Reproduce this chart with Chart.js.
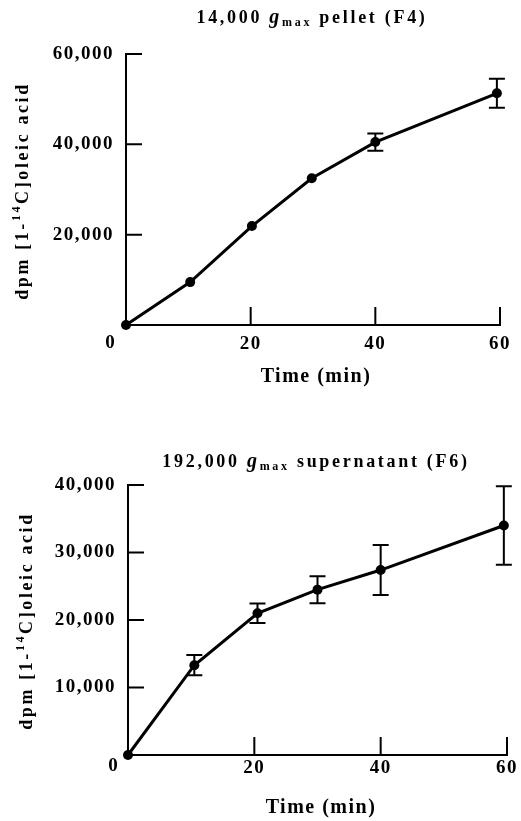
<!DOCTYPE html>
<html>
<head>
<meta charset="utf-8">
<script src="https://cdn.jsdelivr.net/npm/chart.js@4.4.0/dist/chart.umd.min.js"></script>
<style>
  html, body { margin: 0; padding: 0; background: #fff; }
  #wrap { position: relative; width: 521px; height: 821px; }
  canvas { position: absolute; left: 0; }
  #f4 { top: 0; }
  #f6 { top: 400px; }
</style>
</head>
<body>
<div id="wrap">
  <canvas id="f4" width="521" height="400"></canvas>
  <canvas id="f6" width="521" height="421"></canvas>
</div>
<script>
// 14,000 g pellet (F4)
const timeF4 = [0, 10.3, 20.2, 29.8, 40, 59.5];
const dpmF4 = [0, 9500, 21900, 32500, 40500, 51300];
const errF4 = [0, 0, 0, 0, 1900, 3200];
const yTicksF4 = [20000, 40000, 60000];

// 192,000 g supernatant (F6)
const timeF6 = [0, 10.5, 20.5, 30, 40, 59.5];
const dpmF6 = [0, 13300, 21000, 24500, 27400, 34000];
const errF6 = [0, 1500, 1450, 2000, 3700, 5800];
const yTicksF6 = [10000, 20000, 30000, 40000];

const xTicks = [20, 40, 60];
const SERIF = "'Liberation Serif', 'Times New Roman', serif";

// draw runs of text [{t, font, dy}] centred on (x, y), optionally rotated
function drawRuns(ctx, runs, x, y, spacing, rotate) {
  ctx.save();
  ctx.letterSpacing = spacing + 'px';
  ctx.fillStyle = '#000';
  ctx.textBaseline = 'middle';
  ctx.textAlign = 'left';
  let total = 0;
  runs.forEach(r => { ctx.font = r.font; r.w = ctx.measureText(r.t).width; total += r.w; });
  ctx.translate(x, y);
  if (rotate) ctx.rotate(-Math.PI / 2);
  let cx = -total / 2;
  runs.forEach(r => { ctx.font = r.font; ctx.fillText(r.t, cx, r.dy || 0); cx += r.w; });
  ctx.restore();
}

function yLabelRuns() {
  return [
    { t: 'dpm [1-', font: 'bold 18px ' + SERIF },
    { t: '14', font: 'bold 12px ' + SERIF, dy: -6 },
    { t: 'C]oleic acid', font: 'bold 18px ' + SERIF }
  ];
}

function titleRuns(before, after) {
  return [
    { t: before, font: 'bold 18px ' + SERIF },
    { t: 'g', font: 'italic bold 20px ' + SERIF },
    { t: 'max', font: 'bold 12px ' + SERIF, dy: 5 },
    { t: after, font: 'bold 18px ' + SERIF }
  ];
}

function makeChart(id, times, dpm, err, yTicks, yMax, look) {
  const decor = {
    id: 'decor',
    beforeDraw(chart) { chart.ctx.letterSpacing = '1.5px'; },
    afterDatasetsDraw(chart) {
      const { ctx, scales: { x, y } } = chart;
      ctx.save();
      ctx.strokeStyle = '#000';
      ctx.lineWidth = 2;
      // error bars
      ctx.beginPath();
      times.forEach((t, i) => {
        if (!err[i]) return;
        const px = x.getPixelForValue(t);
        const top = y.getPixelForValue(dpm[i] + err[i]);
        const bot = y.getPixelForValue(dpm[i] - err[i]);
        ctx.moveTo(px, top); ctx.lineTo(px, bot);
        ctx.moveTo(px - 8, top); ctx.lineTo(px + 8, top);
        ctx.moveTo(px - 8, bot); ctx.lineTo(px + 8, bot);
      });
      // tick marks pointing into the plot
      y.ticks.forEach(tk => {
        const py = y.getPixelForValue(tk.value);
        ctx.moveTo(x.left, py); ctx.lineTo(x.left + 16, py);
      });
      x.ticks.forEach(tk => {
        const px = x.getPixelForValue(tk.value);
        ctx.moveTo(px, y.bottom); ctx.lineTo(px, y.bottom - 18);
      });
      ctx.stroke();
      ctx.restore();
    },
    afterDraw(chart) {
      const ctx = chart.ctx;
      drawRuns(ctx, look.title, look.titleAt[0], look.titleAt[1], 2.7, false);
      drawRuns(ctx, yLabelRuns(), look.yLabelAt[0], look.yLabelAt[1], 2.6, true);
      drawRuns(ctx, [{ t: 'Time (min)', font: 'bold 20px ' + SERIF }], look.xLabelAt[0], look.xLabelAt[1], 1.5, false);
      // the lone "0" sits left of the corner, level with the other x labels
      drawRuns(ctx, [{ t: '0', font: 'bold 19px ' + SERIF }], look.zeroAt[0], look.zeroAt[1], 0, false);
    }
  };

  return new Chart(document.getElementById(id), {
    type: 'line',
    data: {
      datasets: [{
        data: times.map((t, i) => ({ x: t, y: dpm[i] })),
        borderColor: '#000',
        borderWidth: 3,
        pointRadius: 5,
        pointBackgroundColor: '#000',
        pointBorderWidth: 0,
        tension: 0,
        clip: false
      }]
    },
    options: {
      responsive: false,
      animation: false,
      devicePixelRatio: 1,
      layout: { padding: look.pad },
      plugins: { legend: { display: false }, tooltip: { enabled: false } },
      scales: {
        x: {
          type: 'linear', min: 0, max: 60,
          grid: { display: false, drawTicks: false },
          border: { display: true, color: '#000', width: 2 },
          afterBuildTicks: s => { s.ticks = xTicks.map(v => ({ value: v })); },
          afterFit: s => { s.height = look.xHeight; },
          ticks: { color: '#000', font: { family: SERIF, size: 19, weight: 'bold' }, padding: look.xPad, maxRotation: 0 }
        },
        y: {
          type: 'linear', min: 0, max: yMax,
          grid: { display: false, drawTicks: false },
          border: { display: true, color: '#000', width: 2 },
          afterBuildTicks: s => { s.ticks = yTicks.map(v => ({ value: v })); },
          afterFit: s => { s.width = look.yWidth; },
          ticks: {
            color: '#000', font: { family: SERIF, size: 19, weight: 'bold' }, padding: 12,
            callback: v => v.toLocaleString('en-US')
          }
        }
      }
    },
    plugins: [decor]
  });
}

makeChart('f4', timeF4, dpmF4, errF4, yTicksF4, 60000, {
  pad: { top: 54, right: 21, left: 0, bottom: 0 },
  yWidth: 126, xHeight: 75, xPad: 8, zeroAt: [110, 343],
  title: titleRuns('14,000 ', ' pellet (F4)'),
  titleAt: [312, 18], yLabelAt: [23, 191], xLabelAt: [316, 377]
});

makeChart('f6', timeF6, dpmF6, errF6, yTicksF6, 40000, {
  pad: { top: 85, right: 14, left: 0, bottom: 0 },
  yWidth: 128, xHeight: 66, xPad: 2, zeroAt: [113, 366],
  title: titleRuns('192,000 ', ' supernatant (F6)'),
  titleAt: [316, 62], yLabelAt: [27, 221], xLabelAt: [321, 408]
});
</script>
</body>
</html>
